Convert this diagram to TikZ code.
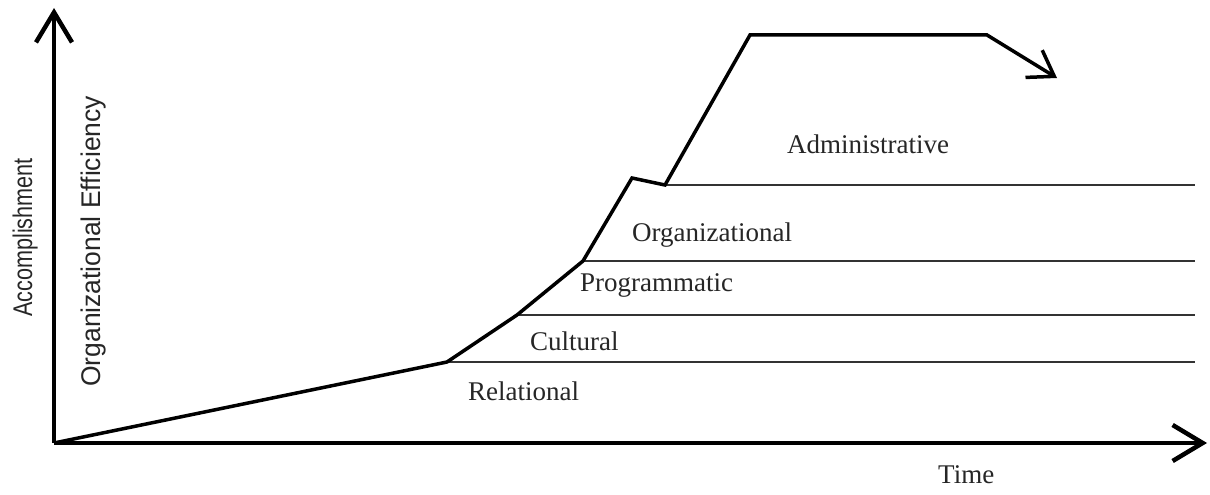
\documentclass[tikz,border=0pt]{standalone}
\usepackage{fontspec}
\setmainfont{Liberation Serif}
\newfontfamily\axisfont{Liberation Sans}
\usetikzlibrary{arrows.meta}
\begin{document}
\begin{tikzpicture}[x=1pt,y=-1pt,
  axis/.style={line width=4.5pt,-{Straight Barb[length=30pt,width=36pt,line width=4.5pt]}},
  growth/.style={line width=3.5pt,line join=miter,-{Straight Barb[length=24pt,width=32pt,line width=3.5pt]}},
  level/.style={line width=1.4pt,draw=black!80},
  stage/.style={font=\fontsize{27}{30}\selectfont,text=black!85,anchor=base west,inner sep=0pt},
  axlabel/.style={font=\axisfont\fontsize{27}{30}\selectfont,text=black!85,anchor=base west,inner sep=0pt,rotate=90}]
\useasboundingbox (0,0) rectangle (1210,495);
\fill[white] (0,0) rectangle (1210,495);

% axes
\coordinate (o) at (54,443);
\coordinate (ytip) at (54,8);
\coordinate (xtip) at (1207,443);
\draw[axis] (o) -- (ytip);
\draw[axis] (o) -- (xtip);

% break points of the growth line
\coordinate (p1) at (447,362);
\coordinate (p2) at (517,315);
\coordinate (p3) at (583,261);
\coordinate (p4) at (632,178);
\coordinate (p5) at (665,185);
\coordinate (p6) at (750,35);
\coordinate (p7) at (987,35);
\coordinate (p8) at (1057,78);

% level boundaries
\coordinate (e1) at (1195,362);
\coordinate (e2) at (1195,315);
\coordinate (e3) at (1195,261);
\coordinate (e4) at (1195,185);
\draw[level] (p1) -- (e1);
\draw[level] (p2) -- (e2);
\draw[level] (p3) -- (e3);
\draw[level] (p5) -- (e4);

% growth line
\draw[growth] (o) -- (p1) -- (p2) -- (p3) -- (p4) -- (p5) -- (p6) -- (p7) -- (p8);

% stage labels
\node[stage] (adm) at (787,153) {Administrative};
\node[stage] (org) at (632,241) {Organizational};
\node[stage] (prg) at (580,291) {Programmatic};
\node[stage] (cul) at (530,350) {Cultural};
\node[stage] (rel) at (468,400) {Relational};
\node[stage] (time) at (938,483) {Time};

% axis labels
\node[axlabel] (acc) at (32,317) {\scalebox{0.8}[1]{Accomplishment}};
\node[axlabel] (eff) at (100,387) {\scalebox{0.98}[1]{Organizational Efficiency}};
\end{tikzpicture}
\end{document}
